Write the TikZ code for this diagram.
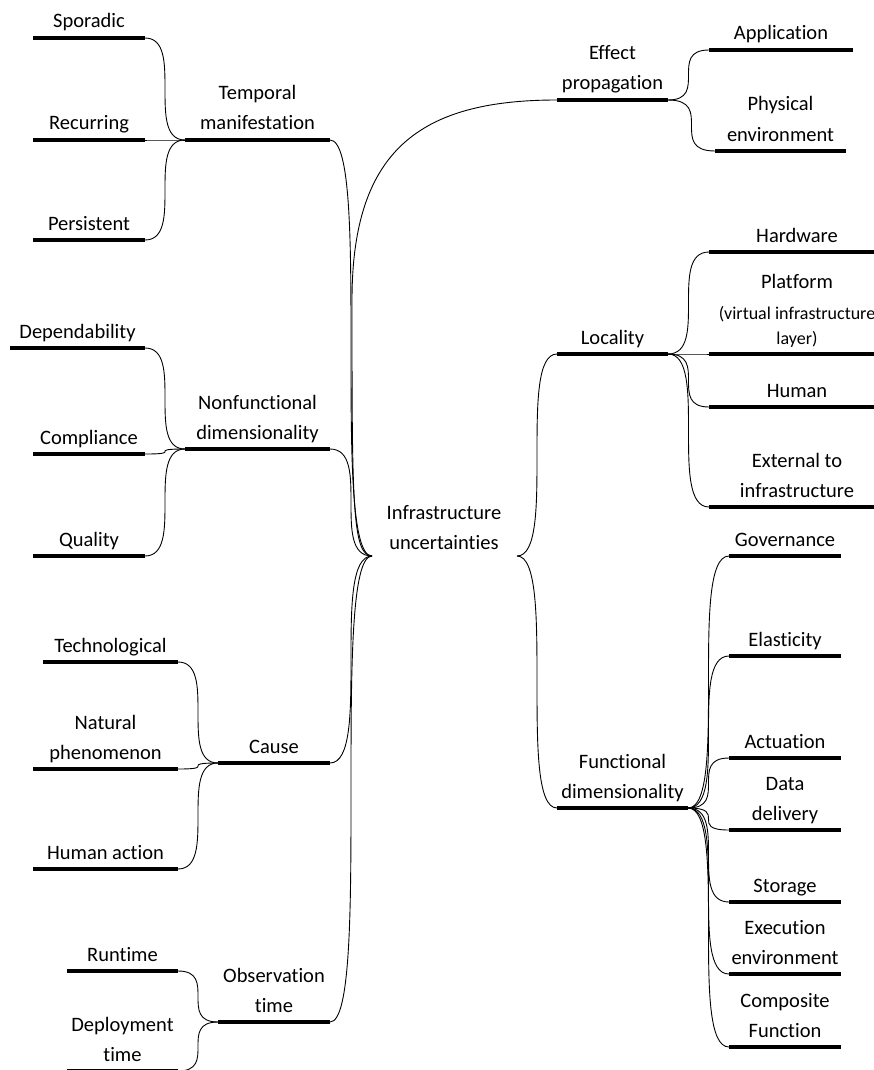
\documentclass[tikz,border=0pt]{standalone}
\usepackage{fontspec}
\setmainfont{Carlito}[Ligatures={NoCommon}]
\usetikzlibrary{calc}

\tikzset{
  bar/.style={line width=4.8pt, line cap=butt, black},
  link/.style={line width=0.9pt, black,
    to path={let \p1=(\tikztostart), \p2=(\tikztotarget), \n1={abs(\x2-\x1)} in
      .. controls +(\n1,0) and +(-\n1,0) .. (\tikztotarget) \tikztonodes}},
  lbl/.style={anchor=base, inner sep=0pt, font=\fontsize{20.5}{30}\selectfont},
}

% topic bar with its label: name, left x, right x, bar y, text
\newcommand\mmtopic[5]{%
  \draw[bar] (#2,#4) coordinate (#1-l) -- (#3,#4) coordinate (#1-r);
  \node[lbl] (#1) at ({(#2+#3)/2},{#4-10}) {#5};
}
\newcommand\twolines[2]{\begin{tabular}[b]{@{}c@{}}#1\\#2\end{tabular}}

\begin{document}
\begin{tikzpicture}[x=1pt, y=-1pt]
\useasboundingbox (0,0) rectangle (873,1070);

% central topic and its two hubs
\node[lbl] (core) at (444,549) {\twolines{Infrastructure}{uncertainties}};
\coordinate (hubL) at (372,556);
\coordinate (hubR) at (517,556);

% left side
\mmtopic{temporal}{185}{330}{140}{\twolines{Temporal}{manifestation}}
\mmtopic{sporadic}{33}{145}{38}{Sporadic}
\mmtopic{recurring}{33}{145}{140}{Recurring}
\mmtopic{persistent}{33}{145}{240}{Persistent}

\mmtopic{nonfunctional}{185}{330}{449}{\twolines{Nonfunctional}{dimensionality}}
\mmtopic{dependability}{10}{145}{348}{Dependability}
\mmtopic{compliance}{33}{145}{454}{Compliance}
\mmtopic{quality}{33}{145}{556}{Quality}

\mmtopic{cause}{218}{330}{763}{Cause}
\mmtopic{technological}{43}{178}{662}{Technological}
\mmtopic{natural}{33}{178}{769}{\twolines{Natural}{phenomenon}}
\mmtopic{humanaction}{33}{178}{869}{Human action}

\mmtopic{observation}{218}{330}{1022}{\twolines{Observation}{time}}
\mmtopic{runtime}{67}{178}{971}{Runtime}
\mmtopic{deployment}{67}{178}{1071}{\twolines{Deployment}{time}}

% right side
\mmtopic{effect}{557}{668}{100}{\twolines{Effect}{propagation}}
\mmtopic{application}{709}{853}{50}{Application}
\mmtopic{physical}{715}{846}{151}{\twolines{Physical}{environment}}

\mmtopic{locality}{557}{668}{354}{Locality}
\mmtopic{hardware}{709}{885}{252}{Hardware}
\mmtopic{platform}{709}{885}{354}{\begin{tabular}[b]{@{}c@{}}Platform\\[1pt]
  {\fontsize{18}{22}\selectfont (virtual infrastructure}\\[-5pt]
  {\fontsize{18}{22}\selectfont layer)}\end{tabular}}
\mmtopic{human}{709}{885}{407}{Human}
\mmtopic{external}{709}{885}{507}{\twolines{External to}{infrastructure}}

\mmtopic{functional}{557}{688}{808}{\twolines{Functional}{dimensionality}}
\mmtopic{governance}{729}{841}{556}{Governance}
\mmtopic{elasticity}{729}{841}{656}{Elasticity}
\mmtopic{actuation}{729}{841}{758}{Actuation}
\mmtopic{datadelivery}{729}{841}{830}{\twolines{Data}{delivery}}
\mmtopic{storage}{729}{841}{902}{Storage}
\mmtopic{execution}{729}{841}{974}{\twolines{Execution}{environment}}
\mmtopic{composite}{729}{841}{1047}{\twolines{Composite}{Function}}

% connectors: leaves to their topics
\foreach \c in {sporadic,recurring,persistent}
  \draw[link] (\c-r) to (temporal-l);
\foreach \c in {dependability,compliance,quality}
  \draw[link] (\c-r) to (nonfunctional-l);
\foreach \c in {technological,natural,humanaction}
  \draw[link] (\c-r) to (cause-l);
\foreach \c in {runtime,deployment}
  \draw[link] (\c-r) to (observation-l);
\foreach \c in {application,physical}
  \draw[link] (effect-r) to (\c-l);
\foreach \c in {hardware,platform,human,external}
  \draw[link] (locality-r) to (\c-l);
\foreach \c in {governance,elasticity,actuation,datadelivery,storage,execution,composite}
  \draw[link] (functional-r) to (\c-l);

% connectors: main topics to the centre
\foreach \c in {temporal,nonfunctional,cause,observation}
  \draw[link] (\c-r) to (hubL);
\coordinate (effbend) at (352,300);
\draw[line width=0.9pt] (effect-l) .. controls +(-137,0) and +(0,-150) .. (effbend)
  .. controls +(0,200) and +(-20,0) .. (hubL);
\draw[link] (hubR) to (locality-l);
\draw[link] (hubR) to (functional-l);
\end{tikzpicture}
\end{document}
